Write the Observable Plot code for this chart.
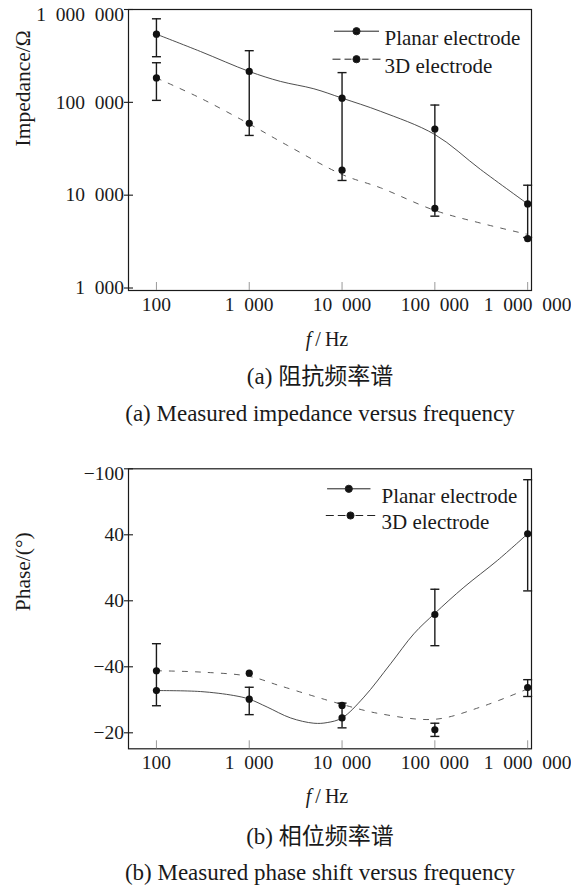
<!DOCTYPE html>
<html>
<head>
<meta charset="utf-8">
<script src="https://cdn.jsdelivr.net/npm/d3@7"></script>
<script src="https://cdn.jsdelivr.net/npm/@observablehq/plot@0.6"></script>
<style>
html,body{margin:0;padding:0;background:#fff;overflow:hidden}
#wrap{position:relative;width:571px;height:887px;font-family:"Liberation Serif","Times New Roman",Times,"DejaVu Serif",serif;color:#1a1a1a}
.panel{position:absolute;left:0}
.cap{position:absolute;left:70px;width:500px;text-align:center;font-size:23px;line-height:23px;white-space:nowrap}
.cjk{font-family:"Noto Sans CJK SC",sans-serif;line-height:0}
.xl{position:absolute;left:227px;width:200px;text-align:center;font-size:20px;line-height:20px;white-space:nowrap}
</style>
</head>
<body>
<div id="wrap">
  <div id="pa" class="panel" style="top:0"></div>
  <div class="xl" style="top:329px"><i>f</i>&thinsp;/&thinsp;Hz</div>
  <div class="cap" style="top:365px">(a) <span class="cjk">阻抗频率谱</span></div>
  <div class="cap" style="top:402px">(a) Measured impedance versus frequency</div>
  <div id="pb" class="panel" style="top:440px"></div>
  <div class="xl" style="top:786px"><i>f</i>&thinsp;/&thinsp;Hz</div>
  <div class="cap" style="top:825px">(b) <span class="cjk">相位频率谱</span></div>
  <div class="cap" style="top:861px">(b) Measured phase shift versus frequency</div>
</div>
<script>
// ---------- data ----------
const freqs = [100, 1000, 10000, 100000, 1000000];
const xTickVals = [100, 1000, 10000, 100000, 1000000];
const xTickLabels = ["100", "1\u2002000", "10\u2002000", "100\u2002000", "1\u2002000\u2002000"];
const seriesNames = ["Planar electrode", "3D electrode"];

// (a) impedance
const impPlanar = [542000, 215000, 111000, 51600, 8050];
const imp3D = [183000, 59500, 18600, 7200, 3400];
const impErrFreq = [100, 100, 1000, 10000, 100000, 1000000];
const impErrLow = [310000, 105000, 44000, 14400, 5940, 3500];
const impErrHigh = [794000, 267000, 360000, 209000, 93500, 12800];
const impFitPlanarF = [100, 298, 1000, 2170, 4970, 10000, 26000, 100000, 311000, 1000000];
const impFitPlanarV = [542000, 353000, 215000, 168000, 140000, 111000, 80000, 45000, 18900, 8050];
const impFit3DF = [100, 298, 1000, 2560, 10000, 26000, 100000, 311000, 1000000];
const impFit3DV = [183000, 111000, 58500, 34500, 16700, 12000, 6850, 5000, 3780];
const yTickValsA = [1000, 10000, 100000, 1000000];
const yTickLabelsA = ["1\u2002000", "10\u2002000", "100\u2002000", "1\u2002000\u2002000"];

// (b) phase
const phasePlanar = [-32.8, -30.2, -24.5, -55.85, -80.3];
const phase3D = [-38.8, -38.06, -28.3, -20.9, -33.7];
const phErrFreq = [100, 1000, 10000, 100000, 100000, 1000000, 1000000];
const phErrLow = [-47.0, -33.8, -29.0, -63.5, -22.9, -96.7, -36.1];
const phErrHigh = [-28.2, -25.5, -21.5, -46.4, -18.9, -63.0, -31.0];
const phFitPlanarF = [100, 298, 681, 1000, 1560, 2790, 4970, 6920, 10000, 17200, 33300, 59400, 100000, 205600, 471000, 1000000];
const phFitPlanarV = [-32.8, -32.5, -31.3, -30.2, -27.8, -24.5, -22.9, -23.1, -24.5, -30.8, -40.9, -50.0, -56.2, -64.1, -72.2, -80.3];
const phFit3DF = [100, 298, 1000, 2170, 10000, 26000, 100000, 311000, 1000000];
const phFit3DV = [-38.8, -38.4, -37.1, -34.2, -28.6, -25.75, -24.1, -27.8, -33.3];
const yTickValsB = [-100, -80, -60, -40, -20];
const yTickLabelsB = ["\u2212100", "40", "40", "\u221240", "\u221220"];

// ---------- helpers ----------
const FONT = '"Liberation Serif","Times New Roman",Times,"DejaVu Serif",serif';
const rows = (fs, vs) => fs.map((f, i) => ({f, v: vs[i]}));
const errRows = (fs, lo, hi) => fs.map((f, i) => ({f, lo: lo[i], hi: hi[i]}));
const capSym = {draw(c) { c.moveTo(-4.5, 0); c.lineTo(4.5, 0); }};
function legendSym(half, dashed) {
  return {draw(c) {
    if (!dashed) { c.moveTo(-half, 0); c.lineTo(half, 0); }
    else {
      const segs = [[-half, -half + 8], [-half + 12, -5], [5, half - 12], [half - 8, half]];
      for (const [a, b] of segs) { c.moveTo(a, 0); c.lineTo(b, 0); }
    }
    c.moveTo(3.6, 0); c.arc(0, 0, 3.6, 0, 2 * Math.PI);
  }};
}
const INK = "#1a1a1a";
const W = 571, ML = 128, MR = 40;
const PW = W - ML - MR;

function panel(o) {
  const PH = o.height - o.mt - o.mb;
  const topTick = o.yTicks.find(t => t === o.yTop);
  const restTicks = o.yTicks.filter(t => t !== o.yTop);
  const fmtY = d => o.yLabels[o.yTicks.indexOf(d)];
  return Plot.plot({
    width: W, height: o.height,
    marginTop: o.mt, marginBottom: o.mb, marginLeft: ML, marginRight: MR,
    style: {fontFamily: FONT, fontSize: "19.5px", color: INK, background: "white", overflow: "visible"},
    x: {type: "log", domain: [50, 1.1e6]},
    y: o.y,
    marks: [
      Plot.frame({stroke: INK, strokeWidth: 1.2}),
      Plot.tickX(xTickVals, {x: d => d, stroke: "#9a9a9a", strokeWidth: 1, insetTop: PH - 8}),
      Plot.tickY(o.yTicks, {y: d => d, stroke: INK, strokeWidth: 1.1, insetLeft: -4, insetRight: PW - 5}),
      Plot.axisX({ticks: xTickVals, tickFormat: d => xTickLabels[xTickVals.indexOf(d)], tickSize: 0, tickPadding: 6.5, label: null, fill: INK, fontFamily: FONT}),
      Plot.axisY({ticks: restTicks, tickFormat: fmtY, tickSize: 0, tickPadding: 4.5, label: null, fill: INK, fontFamily: FONT}),
      Plot.text([topTick], {y: d => d, text: fmtY, frameAnchor: "left", dx: -4.5, dy: 5, textAnchor: "end", fill: INK, fontFamily: FONT}),
      Plot.text([o.ylabel], {frameAnchor: "left", rotate: -90, dx: 22.7 - ML, dy: o.ylabelDy, fontSize: 21.5, fill: INK, fontFamily: FONT}),
      Plot.line(rows(o.fitPF, o.fitPV), {x: "f", y: "v", curve: "catmull-rom", stroke: "#3a3a3a", strokeWidth: 0.9}),
      Plot.line(rows(o.fit3F, o.fit3V), {x: "f", y: "v", curve: "catmull-rom", stroke: "#4a4a4a", strokeWidth: 0.9, strokeDasharray: "5,8"}),
      Plot.ruleX(o.err, {x: "f", y1: "lo", y2: "hi", stroke: INK, strokeWidth: 1.4}),
      Plot.dot(o.err, {x: "f", y: "lo", symbol: capSym, fill: "none", stroke: INK, strokeWidth: 1.4}),
      Plot.dot(o.err, {x: "f", y: "hi", symbol: capSym, fill: "none", stroke: INK, strokeWidth: 1.4}),
      Plot.dot(rows(freqs, o.planar), {x: "f", y: "v", r: 3.6, fill: "#111", stroke: "none"}),
      Plot.dot(rows(freqs, o.d3), {x: "f", y: "v", r: 3.6, fill: "#111", stroke: "none"}),
      // legend
      Plot.dot([0], {frameAnchor: "top-right", dx: o.lg.sx1, dy: o.lg.sy1, symbol: legendSym(o.lg.h1, false), fill: "#111", stroke: "#222", strokeWidth: 1}),
      Plot.dot([0], {frameAnchor: "top-right", dx: o.lg.sx2, dy: o.lg.sy2, symbol: legendSym(o.lg.h2, true), fill: "#111", stroke: "#222", strokeWidth: 1}),
      Plot.text([seriesNames[0]], {frameAnchor: "top-right", dx: o.lg.tx, dy: o.lg.ty1, textAnchor: "start", fontSize: 21, fill: INK, fontFamily: FONT}),
      Plot.text([seriesNames[1]], {frameAnchor: "top-right", dx: o.lg.tx, dy: o.lg.ty2, textAnchor: "start", fontSize: 21, fill: INK, fontFamily: FONT})
    ]
  });
}

const chartA = panel({
  height: 355, mt: 9, mb: 65,
  y: {type: "log", domain: [940, 1e6]},
  yTicks: yTickValsA, yLabels: yTickLabelsA, yTop: 1000000,
  ylabel: "Impedance/\u03A9", ylabelDy: -3.5,
  planar: impPlanar, d3: imp3D,
  err: errRows(impErrFreq, impErrLow, impErrHigh),
  fitPF: impFitPlanarF, fitPV: impFitPlanarV, fit3F: impFit3DF, fit3V: impFit3DV,
  lg: {sx1: -175, sy1: 21.7, h1: 22.5, sx2: -175, sy2: 49.7, h2: 24, tx: -147, ty1: 20.8, ty2: 48.4}
});
const chartB = panel({
  height: 375, mt: 28.3, mb: 66.7,
  y: {type: "linear", domain: [-15.15, -100]},
  yTicks: yTickValsB, yLabels: yTickLabelsB, yTop: -100,
  ylabel: "Phase/(\u00B0)", ylabelDy: 2.5,
  planar: phasePlanar, d3: phase3D,
  err: errRows(phErrFreq, phErrLow, phErrHigh),
  fitPF: phFitPlanarF, fitPV: phFitPlanarV, fit3F: phFit3DF, fit3V: phFit3DV,
  lg: {sx1: -182.7, sy1: 20, h1: 21.7, sx2: -181, sy2: 46.7, h2: 24.7, tx: -150, ty1: 18.8, ty2: 45.5}
});
document.getElementById("pa").append(chartA);
document.getElementById("pb").append(chartB);
</script>
</body>
</html>
